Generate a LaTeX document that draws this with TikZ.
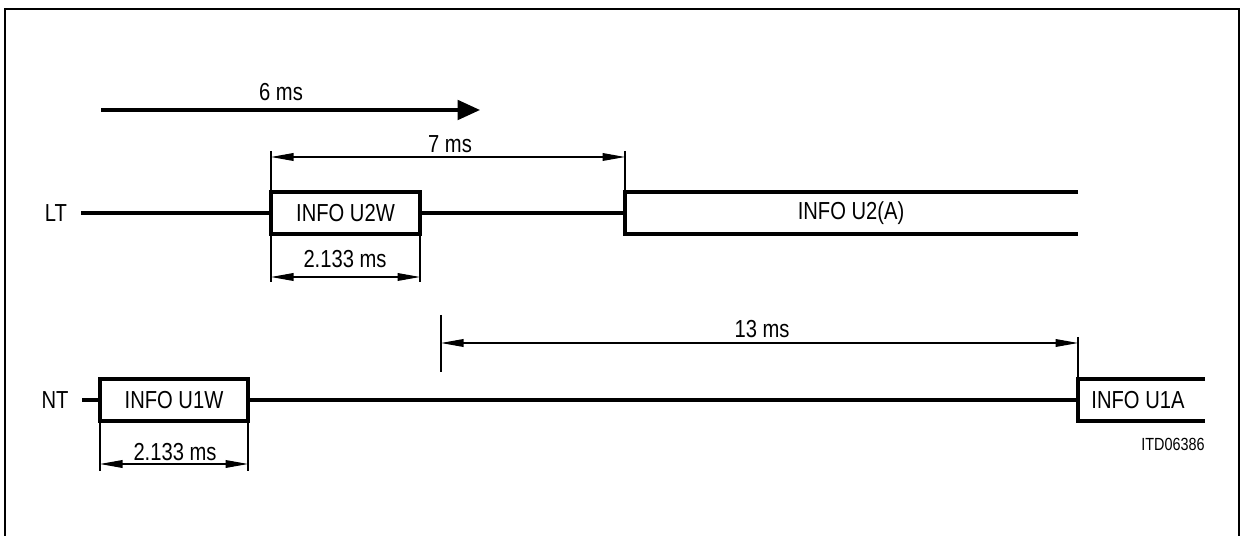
\documentclass[tikz,border=0pt]{standalone}
\usepackage{fontspec}
\setmainfont{Liberation Sans}[FakeStretch=0.82]
\usepackage{tikz}
\usetikzlibrary{arrows.meta,positioning}

\begin{document}
\begin{tikzpicture}[
    x=0.025cm, y=-0.025cm,
    every node/.style={font=\fontsize{17.5}{21}\selectfont, inner sep=0pt},
    sig/.style={line width=2.3pt},
    infobox/.style={draw, line width=2.3pt, minimum height=1.05cm},
    thin/.style={line width=0.75pt},
    dimarrow/.style={thin, {Triangle[length=16pt,width=5.5pt]}-{Triangle[length=16pt,width=5.5pt]}},
    bigarrow/.style={sig, -{Triangle[length=16pt,width=14pt]}}
]
\useasboundingbox (0,0) rectangle (1240,536);
% Frame (open at the bottom)
\draw[line width=0.9pt] (5,536) -- (5,9) -- (1239,9) -- (1239,536);

% 6 ms arrow
\coordinate (a6s) at (101,110);
\coordinate (a6e) at (480,110);
\draw[bigarrow] (a6s) -- (a6e);
\node (t6) at (281,92) {6 ms};

% LT line
\node (lt) at (56,213) {LT};
\coordinate (ltstart) at (81,213);
\node[infobox, minimum width=3.725cm] (u2w) at (345.5,213) {INFO U2W};
\coordinate (u2a) at (625,213);
\draw[sig] (ltstart) -- (u2w.west);
\draw[sig] (u2w.east) -- (u2a);
\draw[sig] (1078,192) -| (625,234) -- (1078,234);
\node (u2atext) at (851,213) {INFO U2(A)};

% 7 ms
\coordinate (d7a) at (271,157);
\coordinate (d7b) at (625,157);
\draw[thin] (271,151) -- (271,192);
\draw[thin] (625,151) -- (625,192);
\draw[dimarrow] (d7a) -- (d7b);
\node (t7) at (450,144) {7 ms};

% 2.133 ms below INFO U2W
\coordinate (d2a) at (271,277);
\coordinate (d2b) at (420,277);
\draw[thin] (271,234) -- (271,282);
\draw[thin] (420,234) -- (420,282);
\draw[dimarrow] (d2a) -- (d2b);
\node (t2) at (345,259) {2.133 ms};

% 13 ms
\coordinate (d13a) at (441,343);
\coordinate (d13b) at (1078,343);
\draw[thin] (441,315) -- (441,372);
\draw[thin] (1078,337) -- (1078,379);
\draw[dimarrow] (d13a) -- (d13b);
\node (t13) at (762,329) {13 ms};

% NT line
\node (nt) at (55,400) {NT};
\coordinate (ntstart) at (82,400);
\node[infobox, minimum width=3.7cm] (u1w) at (174,400) {INFO U1W};
\coordinate (u1a) at (1078,400);
\draw[sig] (ntstart) -- (u1w.west);
\draw[sig] (u1w.east) -- (u1a);
\draw[sig] (1205,379) -| (1078,421) -- (1205,421);
\node (u1atext) at (1138,400) {INFO U1A};

% 2.133 ms below INFO U1W
\coordinate (d1a) at (100,464);
\coordinate (d1b) at (248,464);
\draw[thin] (100,421) -- (100,471);
\draw[thin] (248,421) -- (248,471);
\draw[dimarrow] (d1a) -- (d1b);
\node (t1) at (175,452) {2.133 ms};

\node[font=\fontsize{12.5}{15}\selectfont] (itd) at (1173,444) {ITD06386};
\end{tikzpicture}
\end{document}
